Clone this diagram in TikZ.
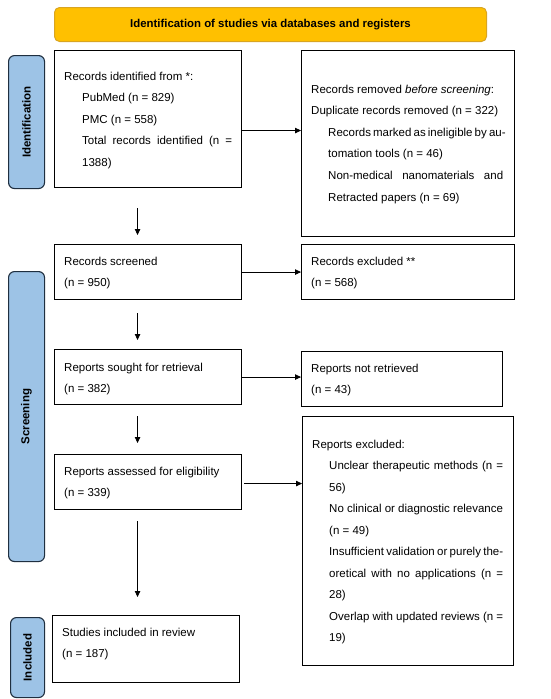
\documentclass[tikz,border=0pt]{standalone}
\usepackage{fontspec}
\setmainfont{Liberation Sans}
\usetikzlibrary{arrows.meta}
\definecolor{hdrfill}{HTML}{FFC000}
\definecolor{hdrline}{HTML}{D9A521}
\definecolor{sidefill}{HTML}{9DC3E6}
\definecolor{sideline}{HTML}{1F2F40}
\begin{document}
\begin{tikzpicture}[x=1pt,y=-1pt,
  box/.style={draw=black, line width=1.1pt, anchor=north west, inner sep=0pt},
  hdrbox/.style={draw=hdrline, fill=hdrfill, line width=1pt, rounded corners=5pt, anchor=north west, inner sep=0pt,
     font=\fontsize{11.4pt}{13pt}\selectfont\bfseries},
  sidebar/.style={draw=sideline, fill=sidefill, line width=1.1pt, rounded corners=6pt, anchor=north west, inner sep=0pt},
  sidelbl/.style={rotate=90, font=\fontsize{11.5pt}{13pt}\selectfont\bfseries, inner sep=0pt},
  txt/.style={anchor=base west, inner sep=0pt, font=\fontsize{11.5pt}{21.6pt}\selectfont},
  arr/.style={draw=black, line width=0.8pt, -{Triangle[length=6pt,width=5.5pt]}}
]
\useasboundingbox (0,0) rectangle (550,699);

% header
\node[hdrbox, minimum width=432pt, minimum height=34pt] (hdr) at (54,7) {Identification of studies via databases and registers};

% side bars
\node[sidebar, minimum width=36pt, minimum height=133pt] (sI) at (8,55) {};
\node[sidelbl] (lI) at (sI.center) {Identification};
\node[sidebar, minimum width=36pt, minimum height=290pt] (sS) at (8,271) {};
\node[sidelbl] (lS) at (sS.center) {Screening};
\node[sidebar, minimum width=34pt, minimum height=80pt] (sN) at (10,617) {};
\node[sidelbl] (lN) at (sN.center) {Included};

% boxes
\node[box, minimum width=187pt, minimum height=137pt] (b1) at (54,50) {};
\node[box, minimum width=213pt, minimum height=186pt] (r1) at (301,50) {};
\node[box, minimum width=187pt, minimum height=55pt] (b2) at (54,244) {};
\node[box, minimum width=213pt, minimum height=55pt] (r2) at (301,244) {};
\node[box, minimum width=187pt, minimum height=55pt] (b3) at (54,349) {};
\node[box, minimum width=201pt, minimum height=55pt] (r3) at (301,351) {};
\node[box, minimum width=187pt, minimum height=55pt] (b4) at (54,454) {};
\node[box, minimum width=211pt, minimum height=249pt] (r4) at (302,416) {};
\node[box, minimum width=187pt, minimum height=67pt] (b5) at (52,615) {};

% texts
\node[txt] (t1) at (64,80) {\parbox[t]{170pt}{%
Records identified from *:\\
\hspace*{18pt}PubMed (n = 829)\\
\hspace*{18pt}PMC (n = 558)\\
\hspace*{18pt}\makebox[150pt][s]{Total records identified (n =}\\
\hspace*{18pt}1388)}};

\node[txt] (tr1) at (311,93) {\parbox[t]{195pt}{%
Records removed \textit{before screening}:\\
Duplicate records removed (n = 322)\\
\hspace*{17pt}\makebox[175pt][s]{Records marked as ineligible by au-}\\
\hspace*{17pt}tomation tools (n = 46)\\
\hspace*{17pt}\makebox[175pt][s]{Non-medical nanomaterials and}\\
\hspace*{17pt}Retracted papers (n = 69)}};

\node[txt] (t2) at (64,265) {\parbox[t]{170pt}{Records screened\\(n = 950)}};
\node[txt] (tr2) at (311,265) {\parbox[t]{190pt}{Records excluded **\\(n = 568)}};
\node[txt] (t3) at (64,371) {\parbox[t]{170pt}{Reports sought for retrieval\\(n = 382)}};
\node[txt] (tr3) at (311,372) {\parbox[t]{185pt}{Reports not retrieved\\(n = 43)}};
\node[txt] (t4) at (64,475) {\parbox[t]{170pt}{Reports assessed for eligibility\\(n = 339)}};

\node[txt, font=\fontsize{11.5pt}{21.5pt}\selectfont] (tr4) at (312,448) {\parbox[t]{195pt}{%
Reports excluded:\\
\hspace*{17pt}\makebox[174pt][s]{Unclear therapeutic methods (n =}\\
\hspace*{17pt}56)\\
\hspace*{17pt}No clinical or diagnostic relevance\\
\hspace*{17pt}(n = 49)\\
\hspace*{17pt}\makebox[174pt][s]{Insufficient validation or purely the-}\\
\hspace*{17pt}\makebox[174pt][s]{oretical with no applications (n =}\\
\hspace*{17pt}28)\\
\hspace*{17pt}\makebox[174pt][s]{Overlap with updated reviews (n =}\\
\hspace*{17pt}19)}};

\node[txt] (t5) at (62,636) {\parbox[t]{170pt}{Studies included in review\\(n = 187)}};

% horizontal arrows
\draw[arr] ([yshift=-11.5pt]b1.east) -- ([yshift=-11.5pt]b1.east -| r1.west);
\draw[arr] (b2.east) -- (b2.east -| r2.west);
\draw[arr] (b3.east) -- (b3.east -| r3.west);
\draw[arr, shorten <=2pt] ([yshift=-1.5pt]b4.east) -- ([yshift=-1.5pt]b4.east -| r4.west);

% vertical arrows
\draw[arr, shorten <=20pt, shorten >=9pt] ([xshift=-10.5pt]b1.south) -- ([xshift=-10.5pt]b1.south |- b2.north);
\draw[arr, shorten <=13pt, shorten >=9pt] ([xshift=-10.5pt]b2.south) -- ([xshift=-10.5pt]b2.south |- b3.north);
\draw[arr, shorten <=11pt, shorten >=11pt] ([xshift=-10.5pt]b3.south) -- ([xshift=-10.5pt]b3.south |- b4.north);
\draw[arr, shorten <=11pt, shorten >=18pt] ([xshift=-10.5pt]b4.south) -- ([xshift=-10.5pt]b4.south |- b5.north);
\end{tikzpicture}
\end{document}
